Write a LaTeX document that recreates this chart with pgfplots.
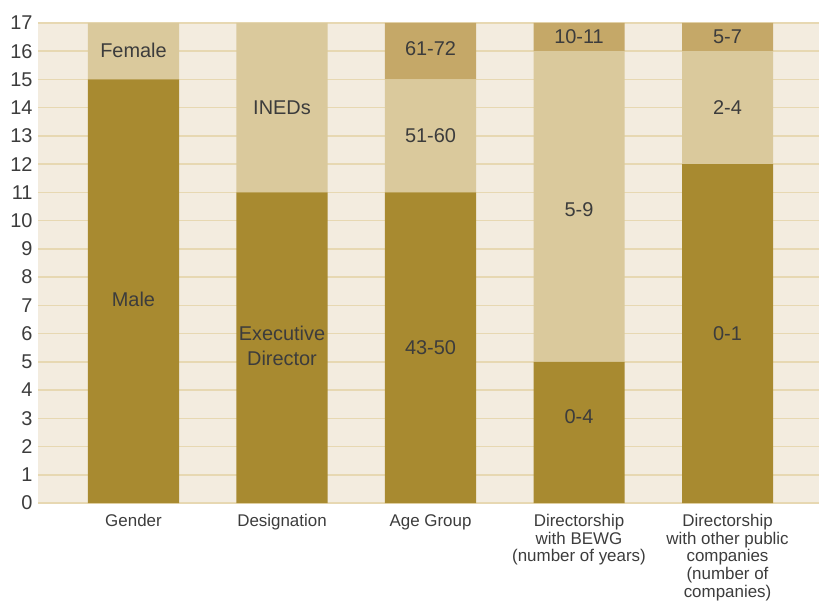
\documentclass[border=0pt]{standalone}
\usepackage{pgfplots}
\pgfplotsset{compat=1.18}
\usepackage{fontspec}
\setmainfont{Liberation Sans}
\definecolor{bgcream}{HTML}{F3ECDF}
\definecolor{gridc}{HTML}{E7D8B2}
\definecolor{darkgold}{HTML}{A88A30}
\definecolor{lightgold}{HTML}{DAC99C}
\definecolor{midgold}{HTML}{C5A868}
\definecolor{txt}{HTML}{3C3C3C}
\tikzset{seg/.style={font=\fontsize{20}{25}\selectfont, text=txt, align=center}}
\begin{document}
\begin{tikzpicture}
\useasboundingbox (0bp,0bp) rectangle (819bp,603bp);
\begin{axis}[
  at={(38bp,100bp)}, anchor=south west,
  scale only axis, width=781bp, height=480bp,
  xmin=-0.643, xmax=4.616, ymin=0, ymax=17,
  ybar stacked, bar width=0.613,
  axis background/.style={fill=bgcream},
  axis line style={draw=none},
  ymajorgrids, grid style={draw=gridc, line width=1.5bp},
  major tick length=0,
  ytick={0,...,17},
  xtick={0,1,2,3,4},
  xticklabels={Gender, Designation, Age Group, {Directorship\\with BEWG\\(number of years)}, {Directorship\\with other public\\companies\\(number of\\companies)}},
  xticklabel style={align=center, font=\fontsize{17}{17.8}\selectfont, text=txt, inner sep=0pt, yshift=-11bp, anchor=north},
  yticklabel style={font=\fontsize{20}{22}\selectfont, text=txt, xshift=-2bp},
  /pgf/number format/assume math mode=true,
  clip=false,
]
\addplot[fill=darkgold, draw=none] coordinates {(0,15) (1,11) (2,11) (3,5) (4,12)};
\addplot[fill=lightgold, draw=none] coordinates {(0,2) (1,6) (2,4) (3,11) (4,4)};
\addplot[fill=midgold, draw=none] coordinates {(0,0) (1,0) (2,2) (3,1) (4,1)};
\coordinate (l1) at (axis cs:0,7.2);
\coordinate (l2) at (axis cs:0,16.02);
\coordinate (l3) at (axis cs:1,5.55);
\coordinate (l4) at (axis cs:1,14.0);
\coordinate (l5) at (axis cs:2,5.5);
\coordinate (l6) at (axis cs:2,13.0);
\coordinate (l7) at (axis cs:2,16.1);
\coordinate (l8) at (axis cs:3,3.05);
\coordinate (l9) at (axis cs:3,10.4);
\coordinate (l10) at (axis cs:3,16.52);
\coordinate (l11) at (axis cs:4,6.0);
\coordinate (l12) at (axis cs:4,14.0);
\coordinate (l13) at (axis cs:4,16.52);
\end{axis}
\node[seg] at (l1) {Male};
\node[seg] at (l2) {Female};
\node[seg] at (l3) {Executive\\Director};
\node[seg] at (l4) {INEDs};
\node[seg] at (l5) {43-50};
\node[seg] at (l6) {51-60};
\node[seg] at (l7) {61-72};
\node[seg] at (l8) {0-4};
\node[seg] at (l9) {5-9};
\node[seg] at (l10) {10-11};
\node[seg] at (l11) {0-1};
\node[seg] at (l12) {2-4};
\node[seg] at (l13) {5-7};
\end{tikzpicture}
\end{document}
